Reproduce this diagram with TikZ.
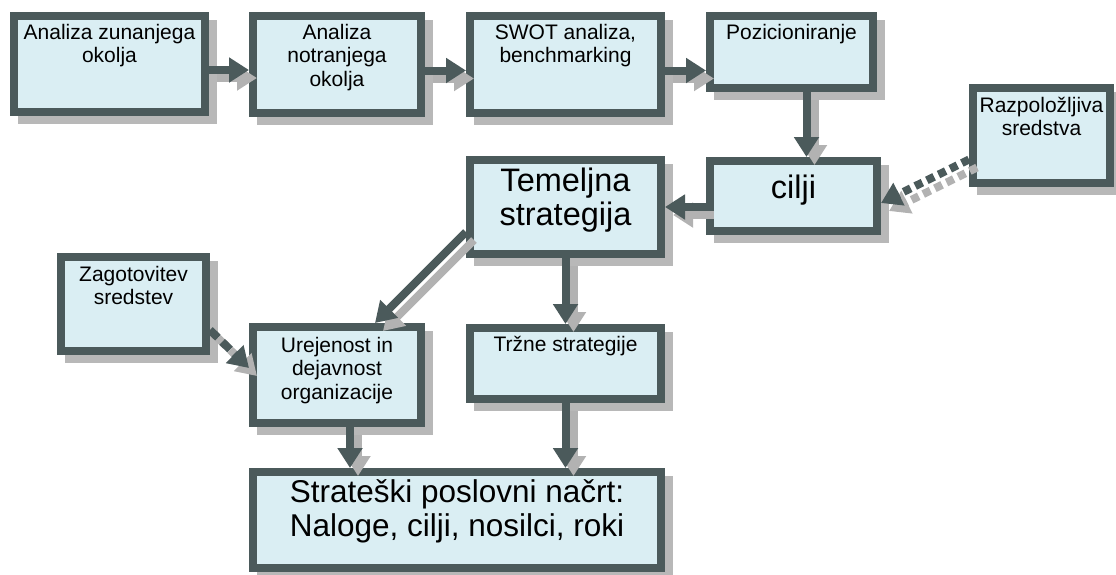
\documentclass[tikz,border=0pt]{standalone}
\usepackage{fontspec}
\setmainfont{Liberation Sans}
\usetikzlibrary{positioning,arrows.meta,shadows}
\definecolor{boxfill}{HTML}{DAEEF3}
\definecolor{boxline}{HTML}{4B5A5B}
\definecolor{shadowc}{HTML}{B8B8B8}
\definecolor{flowshade}{HTML}{B2B2B2}

\tikzset{
  stepbox/.style={draw=boxline, line width=8pt, fill=boxfill, inner sep=0pt,
    drop shadow={shadow xshift=8pt, shadow yshift=-8pt, fill=shadowc,
      draw=shadowc, line width=8pt, opacity=1}},
  small/.style={align=center, inner sep=0pt, anchor=north,
    font=\fontsize{21}{23.5}\selectfont},
  big/.style={align=center, inner sep=0pt, anchor=north,
    font=\fontsize{32.5}{34}\selectfont},
  flow/.style={line width=8pt, -{Triangle[length=20pt,width=24pt]}},
  dotflow/.style={flow, dash pattern=on 8pt off 5pt},
  dashflow/.style={flow, dash pattern=on 11pt off 6pt}
}

\begin{document}
\begin{tikzpicture}[x=1pt,y=-1pt]
\useasboundingbox (0,0) rectangle (1116,574);

% top row
\node[stepbox, minimum width=191pt, minimum height=96pt] (zun) at (109.5,64) {};
\node[small] (zuntxt) at ([yshift=-12pt]zun.north) {Analiza zunanjega\\okolja};
\node[stepbox, minimum width=168pt, minimum height=97pt] (notr) at (337,64.5) {};
\node[small] (notrtxt) at ([yshift=-12pt]notr.north) {Analiza\\notranjega\\okolja};
\node[stepbox, minimum width=191pt, minimum height=97pt] (swot) at (565.5,64.5) {};
\node[small] (swottxt) at ([yshift=-12pt]swot.north) {SWOT analiza,\\benchmarking};
\node[stepbox, minimum width=163pt, minimum height=72pt] (poz) at (791.5,52) {};
\node[small] (poztxt) at ([yshift=-12pt]poz.north) {Pozicioniranje};

% middle
\node[stepbox, minimum width=137pt, minimum height=95pt] (razp) at (1041.5,135.5) {};
\node[small] (razptxt) at ([yshift=-13pt]razp.north) {Razpoložljiva\\sredstva};
\node[stepbox, minimum width=167pt, minimum height=70pt] (cilji) at (793.5,196) {};
\node[big] (ciljitxt) at ([yshift=-18pt]cilji.north) {cilji};
\node[stepbox, minimum width=191pt, minimum height=94pt] (tem) at (565.5,207) {};
\node[big] (temtxt) at ([yshift=-12pt]tem.north) {Temeljna\\strategija};

% lower
\node[stepbox, minimum width=145pt, minimum height=94pt] (zagot) at (133.5,304) {};
\node[small] (zagottxt) at ([yshift=-13pt]zagot.north) {Zagotovitev\\sredstev};
\node[stepbox, minimum width=168pt, minimum height=96pt] (urej) at (337,375) {};
\node[small] (urejtxt) at ([yshift=-14pt]urej.north) {Urejenost in\\dejavnost\\organizacije};
\node[stepbox, minimum width=191pt, minimum height=71pt] (trzne) at (565.5,363.5) {};
\node[small] (trznetxt) at ([yshift=-12pt]trzne.north) {Tržne strategije};
\node[stepbox, minimum width=408pt, minimum height=96pt] (strat) at (457,520) {};
\node[big, font=\fontsize{31.5}{34}\selectfont] (strattxt) at ([yshift=-11pt]strat.north)
  {Strateški poslovni načrt:\\Naloge, cilji, nosilci, roki};

% connectors, shadow first
\foreach \off/\col in {8/flowshade, 0/boxline} {
\begin{scope}[transform canvas={shift={(\off pt,-\off pt)}}, draw=\col]
\draw[flow] ([yshift=-6pt]zun.east) -- ([yshift=-6pt]zun.east -| notr.west);
\draw[flow] ([yshift=-6pt]notr.east) -- ([yshift=-6pt]notr.east -| swot.west);
\draw[flow] ([yshift=-6pt]swot.east) -- ([yshift=-6pt]swot.east -| poz.west);
\draw[flow] ([xshift=15pt]poz.south) -- ([xshift=15pt]poz.south |- cilji.north);
\draw[flow] ([yshift=-11pt]cilji.west) -- ([yshift=-11pt]cilji.west -| tem.east);
\draw[dotflow] ([yshift=-24pt]razp.west) -- ([yshift=-7pt]cilji.east);
\draw[flow] ([yshift=-25pt]tem.west) -- ([xshift=38pt]urej.north);
\draw[flow] (tem.south) -- (trzne.north);
\draw[dashflow] ([yshift=-26pt]zagot.east) -- ([yshift=7pt]urej.west);
\draw[flow] ([xshift=13pt]urej.south) -- ([xshift=13pt]urej.south |- strat.north);
\draw[flow] (trzne.south) -- (trzne.south |- strat.north);
\end{scope}
}
\end{tikzpicture}
\end{document}
